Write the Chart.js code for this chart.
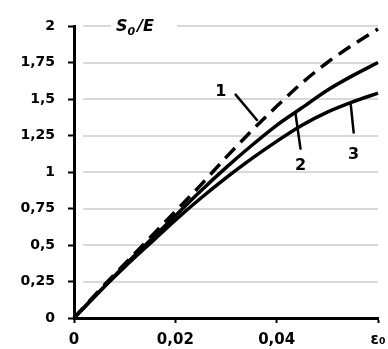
<!DOCTYPE html>
<html>
<head>
<meta charset="utf-8">
<script src="https://cdn.jsdelivr.net/npm/chart.js@4/dist/chart.umd.min.js"></script>
<style>
  html, body { margin: 0; padding: 0; background: #fff; }
  #wrap { width: 388px; height: 349px; position: relative; }
</style>
</head>
<body>
<div id="wrap"><canvas id="c"></canvas></div>
<script>
// Strain values along the horizontal axis
const strain = [0, 0.005, 0.01, 0.015, 0.02, 0.025, 0.03, 0.035, 0.04, 0.045, 0.05, 0.055, 0.06];
// Relative stress S0/E for the three curves
const curve1 = [0, 0.19, 0.37, 0.55, 0.73, 0.91, 1.10, 1.28, 1.45, 1.61, 1.75, 1.87, 1.98];
const curve2 = [0, 0.18, 0.36, 0.53, 0.70, 0.87, 1.03, 1.18, 1.32, 1.44, 1.56, 1.66, 1.75];
const curve3 = [0, 0.18, 0.35, 0.51, 0.67, 0.82, 0.96, 1.09, 1.21, 1.32, 1.41, 1.48, 1.54];

const xTickLabels = ['0', '0,02', '0,04', 'ε₀'];
const yTickLabels = ['0', '0,25', '0,5', '0,75', '1', '1,25', '1,5', '1,75', '2'];

// Curve numbers with their leader lines (data coordinates)
const curveNames   = ['1', '2', '3'];
const nameAnchors  = [[0.0290, 1.55], [0.0447, 1.04], [0.0552, 1.12]];
const leaderStarts = [[0.0319, 1.53], [0.0447, 1.16], [0.0552, 1.27]];
const leaderEnds   = [[0.0361, 1.356], [0.0437, 1.404], [0.0546, 1.47]];

const FONT = '"DejaVu Sans", sans-serif';

const toPoints = vals => strain.map((s, i) => ({ x: s, y: vals[i] }));

const decor = {
  id: 'decor',
  beforeDatasetsDraw(chart) {
    const { ctx, chartArea: a, scales: { y } } = chart;
    ctx.save();
    ctx.strokeStyle = '#cdcdcd';
    ctx.lineWidth = 1.5;
    y.ticks.forEach(t => {
      if (t.value === 0) return;
      const py = Math.round(y.getPixelForValue(t.value));
      ctx.beginPath();
      ctx.moveTo(a.left + 9, py);
      ctx.lineTo(a.right, py);
      ctx.stroke();
    });
    ctx.restore();
  },
  afterDatasetsDraw(chart) {
    const { ctx, scales: { x, y } } = chart;
    ctx.save();
    // leader lines
    ctx.strokeStyle = '#000';
    ctx.lineWidth = 2.5;
    ctx.lineCap = 'round';
    leaderStarts.forEach((s, i) => {
      const e = leaderEnds[i];
      ctx.beginPath();
      ctx.moveTo(x.getPixelForValue(s[0]), y.getPixelForValue(s[1]));
      ctx.lineTo(x.getPixelForValue(e[0]), y.getPixelForValue(e[1]));
      ctx.stroke();
    });
    // curve numbers
    ctx.fillStyle = '#000';
    ctx.font = 'bold 16px ' + FONT;
    ctx.textAlign = 'center';
    ctx.textBaseline = 'middle';
    curveNames.forEach((n, i) => {
      ctx.fillText(n, x.getPixelForValue(nameAnchors[i][0]), y.getPixelForValue(nameAnchors[i][1]));
    });
    // axis title S0/E near the top of the value axis
    const tx = x.getPixelForValue(0.0083);
    const ty = y.getPixelForValue(2) + 1;
    ctx.fillStyle = '#fff';
    ctx.fillRect(tx - 5, ty - 10, 66, 20);
    ctx.fillStyle = '#000';
    ctx.textAlign = 'left';
    ctx.font = 'italic bold 16px ' + FONT;
    ctx.fillText('S', tx, ty);
    let w = ctx.measureText('S').width;
    ctx.font = 'italic bold 11px ' + FONT;
    ctx.fillText('0', tx + w, ty + 5);
    w += ctx.measureText('0').width + 2;
    ctx.font = 'italic bold 16px ' + FONT;
    ctx.fillText('/E', tx + w, ty);
    ctx.restore();
  }
};

new Chart(document.getElementById('c'), {
  type: 'line',
  data: {
    datasets: [
      { label: '1', data: toPoints(curve1), borderDash: [14, 8] },
      { label: '2', data: toPoints(curve2) },
      { label: '3', data: toPoints(curve3) }
    ].map(d => Object.assign({
      borderColor: '#000',
      borderWidth: 3.5,
      pointRadius: 0,
      fill: false,
      cubicInterpolationMode: 'monotone',
      clip: false
    }, d))
  },
  options: {
    responsive: true,
    maintainAspectRatio: false,
    animation: false,
    layout: { padding: { top: 26, right: 10, left: 0, bottom: 0 } },
    plugins: { legend: { display: false }, tooltip: { enabled: false } },
    scales: {
      x: {
        type: 'linear',
        min: 0,
        max: 0.06,
        afterFit: s => { s.height = 31; s.paddingLeft = 0; s.paddingRight = 0; },
        ticks: {
          stepSize: 0.02,
          autoSkip: false,
          maxRotation: 0,
          padding: 8,
          color: '#000',
          font: { family: FONT, size: 15, weight: 'bold' },
          callback: (v, i) => xTickLabels[i]
        },
        grid: { drawOnChartArea: false, drawTicks: true, tickLength: 5, tickColor: '#000', tickWidth: 2 },
        border: { color: '#000', width: 3 }
      },
      y: {
        min: 0,
        max: 2,
        afterFit: s => { s.width = 74; s.paddingTop = 0; s.paddingBottom = 0; },
        ticks: {
          stepSize: 0.25,
          autoSkip: false,
          padding: 13,
          color: '#000',
          font: { family: FONT, size: 14, weight: 'bold' },
          callback: (v, i) => yTickLabels[i]
        },
        grid: { drawOnChartArea: false, drawTicks: true, tickLength: 6, tickColor: '#000', tickWidth: 2 },
        border: { color: '#000', width: 3 }
      }
    }
  },
  plugins: [decor]
});
</script>
</body>
</html>
